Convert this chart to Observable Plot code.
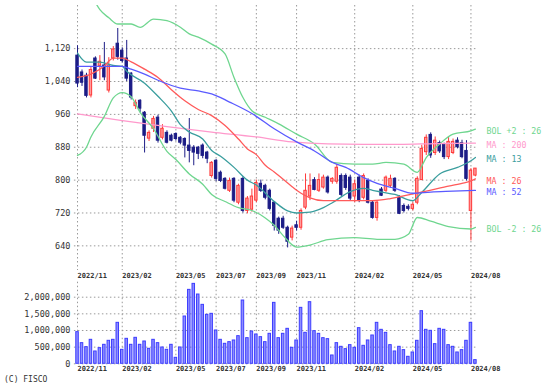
<!DOCTYPE html>
<html><head><meta charset="utf-8">
<script src="https://cdn.jsdelivr.net/npm/d3@7"></script>
<script src="https://cdn.jsdelivr.net/npm/@observablehq/plot@0.6"></script>
<style>
html,body{margin:0;padding:0;background:#fff;}
#chart{width:553px;height:389px;overflow:hidden;background:#fff;}
#chart svg{display:block;}
.caption{font-family:"DejaVu Sans Mono",monospace;font-size:8px;color:#333;height:14px;line-height:10px;padding-left:4px;}
</style></head><body><div id="chart"></div>
<script>
// ---- data (weekly, index 0 = week of 2022/11/28) ----
const monthTicks  = [0, 10, 22, 31, 40, 49, 62, 75, 88];
const monthLabels = ["2022/11","2023/02","2023/05","2023/07","2023/09","2023/11","2024/02","2024/05","2024/08"];
const priceTicks  = [640, 720, 800, 880, 960, 1040, 1120];
const volumeTicks = [0, 500000, 1000000, 1500000, 2000000];

const open = [1103,1062,1054,1006,1096,1078,1079,1018,1096,1132,
  1115,1096,1059,980,993,964,901,925,952,903,
  915,908,912,903,900,884,879,879,884,867,
  810,847,818,803,774,803,745,803,725,728,
  750,791,786,774,745,706,706,684,660,690,
  684,733,760,800,774,782,806,796,796,810,
  810,806,760,806,757,798,745,708,777,774,
  786,803,757,737,735,730,745,800,868,910,
  866,890,886,856,866,896,890,871,725,811];
const high = [1127,1068,1060,1075,1100,1103,1135,1098,1125,1169,
  1122,1140,1062,995,996,967,920,955,958,935,
  920,912,915,906,903,950,884,882,888,870,
  845,850,822,806,805,806,790,808,760,778,
  800,800,790,778,748,710,712,688,688,700,
  730,815,815,806,815,812,810,806,838,815,
  815,812,800,812,815,803,748,750,782,810,
  812,806,762,742,740,745,808,885,910,915,
  905,895,890,905,900,903,897,896,828,828];
const low = [1025,1028,1000,1000,1045,1042,1042,1012,1090,1092,
  1085,1040,995,972,964,866,894,916,890,898,
  888,893,895,886,854,842,835,850,852,840,
  805,796,794,776,770,745,740,720,718,722,
  745,770,752,725,676,668,680,635,652,676,
  678,728,750,774,770,778,766,790,790,760,
  775,750,745,745,752,742,705,700,760,770,
  780,770,716,720,725,725,740,800,860,853,
  860,865,850,850,862,876,852,798,652,808];
const close = [1035,1037,1005,1068,1047,1088,1050,1079,1118,1100,
  1090,1047,1001,988,974,908,915,949,896,925,
  891,896,900,891,884,871,867,864,859,852,
  842,803,798,779,798,750,786,725,755,760,
  793,774,757,730,689,677,684,650,682,684,
  725,774,786,776,800,806,770,803,830,764,
  781,755,790,750,810,745,708,745,762,806,
  803,774,718,725,730,740,803,876,903,860,
  896,870,856,893,893,880,856,803,823,828];
const volume = [950000,620000,500000,720000,370000,470000,570000,690000,720000,1230000,
  420000,750000,570000,780000,570000,670000,450000,720000,620000,490000,
  420000,570000,180000,490000,1420000,2220000,2400000,2080000,1770000,1470000,
  1500000,1000000,720000,600000,650000,700000,830000,1900000,770000,970000,
  880000,800000,650000,900000,1830000,770000,900000,1050000,480000,700000,
  1680000,930000,1850000,980000,900000,770000,740000,250000,620000,510000,
  440000,560000,480000,1070000,540000,700000,850000,1230000,1020000,930000,
  560000,370000,510000,410000,210000,340000,690000,1580000,1020000,990000,
  590000,1050000,1020000,560000,510000,340000,410000,690000,1230000,110000];

// indicator lines: [week index, value]
const ma13 = [[0,1109],[2,1087],[5,1087],[8,1079],[10,1077],[11,1065],[15,1036],[18,1004],[21,968],[23,935],[25,917],[28,900],[30,872],[32,858],[35,831],[38,800],[40,788],[44,748],[47,725],[49,720],[52,722],[55,733],[57,745],[61,772],[64,780],[66,775],[68,771],[71,765],[75,750],[77,770],[81,815],[85,831],[88,847],[89,855]];
const ma26 = [[0,1050],[3,1058],[6,1078],[8,1097],[10,1097],[12,1088],[15,1070],[18,1050],[21,1020],[24,993],[27,972],[30,957],[33,933],[36,900],[38,876],[40,862],[42,836],[44,820],[46,802],[48,784],[50,768],[52,757],[55,750],[60,750],[66,750],[70,755],[74,764],[78,773],[82,783],[86,792],[88,798],[89,803]];
const ma52 = [[0,1077],[10,1077],[12,1070],[15,1058],[18,1043],[23,1024],[27,1017],[30,1010],[34,990],[39,962],[44,925],[49,893],[53,871],[57,843],[60,831],[64,806],[67,792],[71,780],[75,768],[79,771],[84,773],[89,775]];
const ma200 = [[0,961],[10,945],[20,930],[30,917],[40,905],[48,893],[56,888],[64,887],[72,887],[80,889],[89,890]];
const bolUp = [[4,1232],[5,1215],[7,1195],[9,1180],[12,1180],[14,1172],[17,1192],[20,1188],[23,1172],[25,1156],[27,1148],[30,1131],[33,1107],[35,1050],[37,1001],[39,969],[42,953],[45,937],[49,912],[53,888],[57,843],[62,839],[66,839],[69,843],[73,839],[76,819],[78,855],[81,888],[84,912],[88,920],[89,924]];
const bolDn = [[0,860],[2,880],[3,905],[6,955],[8,1000],[10,1013],[12,1003],[14,965],[17,925],[20,870],[22,850],[25,815],[28,790],[30,765],[33,748],[36,733],[39,726],[42,708],[44,690],[46,665],[49,637],[52,642],[56,655],[62,660],[67,656],[71,656],[74,668],[76,709],[79,700],[83,687],[88,681],[89,685]];

const seriesNames  = ["BOL +2 : 26","MA : 200","MA : 13","MA : 26","MA : 52","BOL -2 : 26"];
const seriesColors = ["#6fd68f","#ff99cc","#3a9e9e","#ff5a5a","#5a5aff","#6fd68f"];

// ---- build ----
const NAVY = "#1c1c86", RED = "#ff3a3a", REDFILL = "#ff9c9c", GRID = "#9a9a9a";
const N = open.length;
const candles = d3.range(N).map(i => ({i, o: open[i], h: high[i], l: low[i], c: close[i], up: close[i] > open[i]}));
const vols = volume.map((v, i) => ({i, v}));
const toPts = s => s.map(([i, v]) => ({i, v}));
const series = [bolUp, ma200, ma13, ma26, ma52, bolDn];
const labelData = series.map((s, k) => ({label: seriesNames[k], color: seriesColors[k], v: s[s.length - 1][1]}));
const monthFmt = i => monthLabels[monthTicks.indexOf(i)];
const xDomain = [-0.7, 89.4];
const font = {fontFamily: "'DejaVu Sans Mono', monospace", fontSize: "8px", color: "#333", background: "white", overflow: "visible"};

const lineMarks = series.map((s, k) => Plot.line(toPts(s), {
  x: "i", y: "v", stroke: seriesColors[k], strokeWidth: 1.3, curve: "monotone-x", clip: true
}));

const topPlot = Plot.plot({
  width: 553, height: 280,
  marginLeft: 73.9, marginRight: 76.3, marginTop: 5, marginBottom: 10,
  style: font,
  x: {domain: xDomain},
  y: {domain: [580, 1225]},
  color: {type: "identity"},
  marks: [
    Plot.ruleY(priceTicks, {stroke: GRID, strokeDasharray: "1.5,2.5"}),
    Plot.ruleX(monthTicks, {stroke: GRID, strokeDasharray: "1.5,2.5"}),
    Plot.ruleX(candles, {x: "i", y1: "l", y2: "h", stroke: d => d.up ? RED : NAVY, strokeWidth: 1}),
    Plot.rect(candles, {x1: d => d.i - 0.27, x2: d => d.i + 0.27, y1: "o", y2: "c",
      fill: d => d.up ? REDFILL : NAVY, stroke: d => d.up ? RED : NAVY, strokeWidth: 1}),
    ...lineMarks,
    Plot.axisY(priceTicks, {tickSize: 0, tickPadding: 4, tickFormat: d3.format(","), fontSize: 8.5, label: null}),
    Plot.axisX(monthTicks, {tickSize: 0, tickPadding: 3, tickFormat: monthFmt, textAnchor: "start", fontSize: 7, fontWeight: "bold", label: null}),
    Plot.text(labelData, {x: () => N - 1, y: "v", text: "label", fill: "color", dx: 11, dy: 2, textAnchor: "start", fontSize: 8.3})
  ]
});

const volPlot = Plot.plot({
  width: 553, height: 95,
  marginLeft: 73.9, marginRight: 76.3, marginTop: 1.7, marginBottom: 11.7,
  style: font,
  x: {domain: xDomain},
  y: {domain: [0, 2450000]},
  marks: [
    Plot.ruleY(volumeTicks, {stroke: GRID, strokeDasharray: "1.5,2.5"}),
    Plot.ruleX(monthTicks, {stroke: GRID, strokeDasharray: "1.5,2.5"}),
    Plot.rectY(vols, {x1: d => d.i - 0.28, x2: d => d.i + 0.28, y: "v", fill: "#8e8eff", stroke: "#3c3cff", strokeWidth: 1}),
    Plot.axisY(volumeTicks, {tickSize: 0, tickPadding: 4, tickFormat: d3.format(","), fontSize: 8.5, label: null}),
    Plot.axisX(monthTicks, {tickSize: 0, tickPadding: 2, tickFormat: monthFmt, textAnchor: "start", fontSize: 7, fontWeight: "bold", label: null})
  ]
});

const root = document.getElementById("chart");
root.appendChild(topPlot);
root.appendChild(volPlot);
const cap = document.createElement("div");
cap.className = "caption";
cap.textContent = "(C) FISCO";
root.appendChild(cap);
</script></body></html>
